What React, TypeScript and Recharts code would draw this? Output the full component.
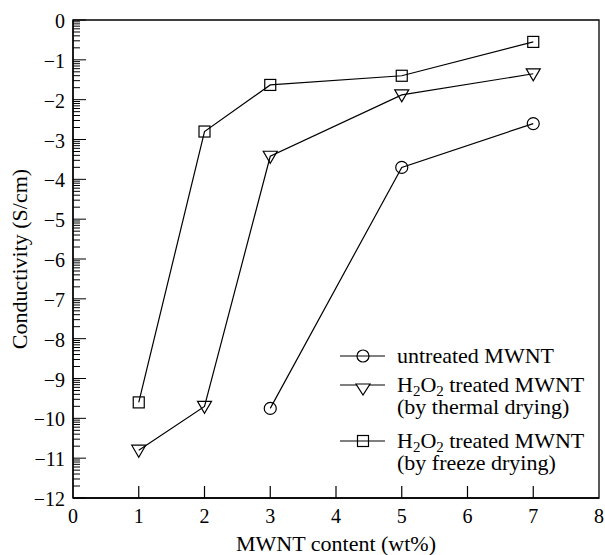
import React from 'react';
import { LineChart, Line, XAxis, YAxis, ReferenceArea, Legend } from 'recharts';

const content = [1, 2, 3, 5, 7];
const untreated = [null, null, -9.75, -3.7, -2.6];
const thermal = [-10.8, -9.7, -3.42, -1.88, -1.35];
const freeze = [-9.6, -2.8, -1.63, -1.4, -0.55];

const xTicks = [0, 1, 2, 3, 4, 5, 6, 7, 8];
const yMajor = [0, -1, -2, -3, -4, -5, -6, -7, -8, -9, -10, -11, -12];
const minorSteps = [2, 3, 4, 5, 6, 7, 8, 9];

const seriesNames = ['untreated MWNT', 'H2O2 treated MWNT (by thermal drying)', 'H2O2 treated MWNT (by freeze drying)'];

const data = content.map((c, i) => ({ c, untreated: untreated[i], thermal: thermal[i], freeze: freeze[i] }));

const yTicks: number[] = [];
yMajor.forEach((n) => {
  yTicks.push(n);
  if (n > -12) minorSteps.forEach((k) => yTicks.push(n - 1 + Math.log10(k)));
});

const FONT = '"Liberation Serif", "Times New Roman", serif';
const SW = 1.2;

const fmt = (v: number) => (v < 0 ? '\u2212' + Math.abs(v) : String(v));

const YTick = (props: any) => {
  const { x, y, payload } = props;
  const v = payload.value;
  const major = Math.abs(v - Math.round(v)) < 1e-6;
  const ax = x + 8;
  return (
    <g>
      <line x1={ax} x2={ax + (major ? 13 : 7)} y1={y} y2={y} stroke="#000" strokeWidth={1} />
      {major ? (
        <text x={x} y={y + 1} textAnchor="end" dominantBaseline="central" fontFamily={FONT} fontSize={20} fill="#000">
          {fmt(Math.round(v))}
        </text>
      ) : null}
    </g>
  );
};

const XTick = (props: any) => {
  const { x, y, payload } = props;
  const v = payload.value;
  return (
    <g>
      {v > 0 && v < 8 ? <line x1={x} x2={x} y1={y} y2={y - 12} stroke="#000" strokeWidth={1.2} /> : null}
      <text x={x} y={y + 18} textAnchor="middle" dominantBaseline="central" fontFamily={FONT} fontSize={20} fill="#000">
        {fmt(v)}
      </text>
    </g>
  );
};

const Circ = (props: any) => {
  const { cx, cy, value } = props;
  if (value == null || cx == null || cy == null) return <g key={props.key} />;
  return <circle key={props.key} cx={cx} cy={cy} r={6} fill="none" stroke="#000" strokeWidth={SW} />;
};
const Tri = (props: any) => {
  const { cx, cy, value } = props;
  if (value == null || cx == null || cy == null) return <g key={props.key} />;
  return (
    <polygon key={props.key} points={`${cx - 7},${cy - 5} ${cx + 7},${cy - 5} ${cx},${cy + 7}`} fill="none" stroke="#000" strokeWidth={SW} />
  );
};
const Sq = (props: any) => {
  const { cx, cy, value } = props;
  if (value == null || cx == null || cy == null) return <g key={props.key} />;
  return <rect key={props.key} x={cx - 5.5} y={cy - 5.5} width={11} height={11} fill="none" stroke="#000" strokeWidth={SW} />;
};

const subStyle: React.CSSProperties = { fontSize: '0.68em', position: 'relative', top: '0.25em', lineHeight: '10px' };

const H2O2 = () => (
  <span>
    H<span style={subStyle}>2</span>O<span style={subStyle}>2</span>
  </span>
);

const Sym = ({ kind }: { kind: string }) => (
  <svg width={45} height={22} style={{ display: 'block', flex: 'none' }}>
    <line x1={0} x2={45} y1={11} y2={11} stroke="#000" strokeWidth={SW} />
    {kind === 'c' ? <circle cx={23} cy={11} r={6} fill="none" stroke="#000" strokeWidth={SW} /> : null}
    {kind === 't' ? <polygon points="16,10 30,10 23,21" fill="white" stroke="#000" strokeWidth={SW} /> : null}
    {kind === 's' ? <rect x={17.5} y={5.5} width={11} height={11} fill="none" stroke="#000" strokeWidth={SW} /> : null}
  </svg>
);

const LegendContent = () => {
  const row: React.CSSProperties = { display: 'flex', alignItems: 'flex-start' };
  const txt: React.CSSProperties = { marginLeft: 12, lineHeight: '22px', fontSize: 22, fontFamily: FONT, color: '#000', whiteSpace: 'nowrap' };
  return (
    <div>
      <div style={row}>
        <Sym kind="c" />
        <div style={txt}>{seriesNames[0]}</div>
      </div>
      <div style={{ ...row, marginTop: 7 }}>
        <Sym kind="t" />
        <div style={txt}>
          <div>
            <H2O2 /> treated MWNT
          </div>
          <div>(by thermal drying)</div>
        </div>
      </div>
      <div style={{ ...row, marginTop: 12 }}>
        <Sym kind="s" />
        <div style={txt}>
          <div>
            <H2O2 /> treated MWNT
          </div>
          <div>(by freeze drying)</div>
        </div>
      </div>
    </div>
  );
};

export default function App() {
  return (
    <div style={{ position: 'absolute', left: 0, top: 0, width: 605, height: 555, background: '#fff' }}>
      <LineChart width={605} height={555} data={data} margin={{ top: 20, right: 6, bottom: 0, left: 0 }}>
        <XAxis
          dataKey="c"
          type="number"
          domain={[0, 8]}
          ticks={xTicks}
          interval={0}
          height={57}
          tickSize={0}
          tickMargin={0}
          tickLine={false}
          axisLine={{ stroke: '#000', strokeWidth: 1.3 }}
          tick={<XTick />}
          label={(p: any) => {
            const vb = p.viewBox || {};
            return (
              <text x={vb.x + vb.width / 2} y={vb.y + 45} textAnchor="middle" dominantBaseline="central" fontFamily={FONT} fontSize={22} fill="#000">
                MWNT content (wt%)
              </text>
            );
          }}
        />
        <YAxis
          type="number"
          domain={[-12, 0]}
          ticks={yTicks}
          interval={0}
          width={73}
          tickSize={0}
          tickMargin={8}
          tickLine={false}
          axisLine={{ stroke: '#000', strokeWidth: 1.3 }}
          tick={<YTick />}
          allowDataOverflow
          label={(p: any) => {
            const vb = p.viewBox || {};
            const cx = vb.x + 19;
            const cy = vb.y + vb.height / 2;
            return (
              <text x={cx} y={cy} transform={`rotate(-90 ${cx} ${cy})`} textAnchor="middle" dominantBaseline="central" fontFamily={FONT} fontSize={22} fill="#000">
                Conductivity (S/cm)
              </text>
            );
          }}
        />
        <ReferenceArea x1={0} x2={8} y1={-12} y2={0} fill="none" fillOpacity={0} stroke="#000" strokeWidth={1.3} ifOverflow="visible" />
        <Legend
          layout="vertical"
          align="center"
          verticalAlign="middle"
          content={<LegendContent />}
          wrapperStyle={{ left: 340, top: 345, width: 260 }}
        />
        <Line dataKey="untreated" name={seriesNames[0]} stroke="#000" strokeWidth={SW} dot={Circ} activeDot={false} isAnimationActive={false} connectNulls={false} />
        <Line dataKey="thermal" name={seriesNames[1]} stroke="#000" strokeWidth={SW} dot={Tri} activeDot={false} isAnimationActive={false} />
        <Line dataKey="freeze" name={seriesNames[2]} stroke="#000" strokeWidth={SW} dot={Sq} activeDot={false} isAnimationActive={false} />
      </LineChart>
    </div>
  );
}
